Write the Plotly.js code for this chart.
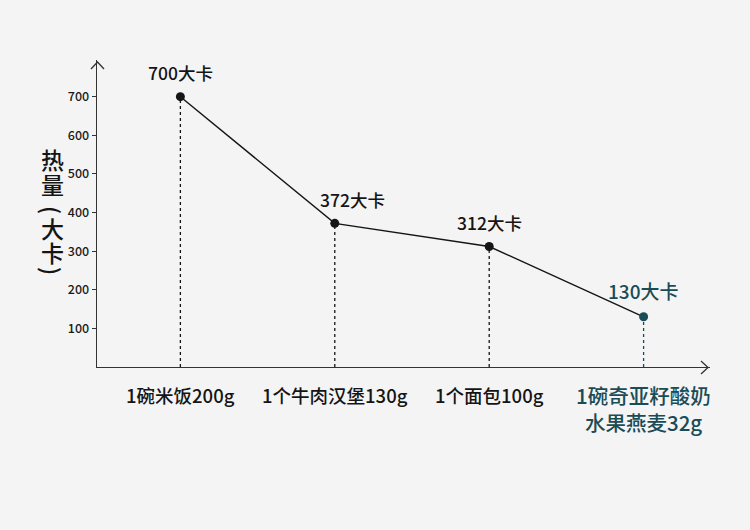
<!DOCTYPE html>
<html>
<head>
<meta charset="utf-8">
<script src="https://cdn.plot.ly/plotly-3.0.1.min.js"></script>
<style>
  html, body { margin: 0; padding: 0; background: #f4f4f4; }
  #graph { width: 750px; height: 530px; }
</style>
</head>
<body>
<div id="graph"></div>
<script>
// data
var foods = [
    ['1碗米饭200g'],
    ['1个牛肉汉堡130g'],
    ['1个面包100g'],
    ['1碗奇亚籽酸奶', '水果燕麦32g']
];
var kcal = [700, 372, 312, 130];
var kcalUnit = '大卡';
var yTicks = [100, 200, 300, 400, 500, 600, 700];
var yTitleChars = ['热', '量', '(', '大', '卡', ')'];

var dark = '#151515';
var teal = '#1a4c57';
var font = '"Noto Sans CJK SC", "Noto Sans", sans-serif';

var W = 750, H = 530;
var mar = {l: 97, r: 40, t: 60, b: 163};
var pw = W - mar.l - mar.r, ph = H - mar.t - mar.b;

var last = kcal.length - 1;
var idx = kcal.map(function (v, i) { return i; });
var colors = idx.map(function (i) { return i === last ? teal : dark; });

var line = {
    x: idx,
    y: kcal,
    type: 'scatter',
    mode: 'lines+markers',
    line: {color: dark, width: 1.4},
    marker: {color: colors, size: 9},
    hoverinfo: 'skip',
    cliponaxis: false
};

var shapes = [];
var annotations = [];

// dotted drop lines
idx.forEach(function (i) {
    shapes.push({
        type: 'line', xref: 'x', yref: 'y',
        x0: i, x1: i, y0: 0, y1: kcal[i],
        line: {color: colors[i], width: 1.3, dash: 'dot'},
        layer: 'below'
    });
});

// value labels
idx.forEach(function (i) {
    annotations.push({
        x: i, y: kcal[i], xref: 'x', yref: 'y',
        text: kcal[i] + kcalUnit,
        showarrow: false,
        yanchor: 'middle',
        yshift: i === last ? 26 : 24,
        xshift: i === 1 ? 18 : 0,
        font: {family: font, size: i === last ? 19 : 17.5, color: colors[i], weight: 500}
    });
});

// category labels
idx.forEach(function (i) {
    foods[i].forEach(function (t, k) {
        annotations.push({
            x: i, y: 0, xref: 'x', yref: 'paper',
            text: t, showarrow: false,
            yanchor: 'middle',
            yshift: -28 - k * 27,
            font: {family: font, size: i === last ? 20.5 : 18.5, color: colors[i], weight: 500}
        });
    });
});

// vertical y title, brackets turned on their side
var titleY = [159, 184, 210, 228, 252, 271];
yTitleChars.forEach(function (c, k) {
    var paren = (c === '(' || c === ')');
    annotations.push({
        xref: 'paper', yref: 'paper',
        x: (52 - mar.l) / pw,
        y: 1 - (titleY[k] - mar.t) / ph,
        text: c, showarrow: false,
        textangle: paren ? 90 : 0,
        xanchor: 'center', yanchor: 'middle',
        font: {family: font, size: 23, color: dark, weight: 500}
    });
});

// arrow heads on the axes
function px(x) { return (x - mar.l) / pw; }
function py(y) { return 1 - (y - mar.t) / ph; }
shapes.push({
    type: 'path', xref: 'paper', yref: 'paper',
    path: 'M' + px(701) + ',' + py(361) + ' L' + px(708) + ',' + py(367.5) + ' L' + px(701) + ',' + py(374),
    line: {color: '#333', width: 1.3}
});
shapes.push({
    type: 'path', xref: 'paper', yref: 'paper',
    path: 'M' + px(91) + ',' + py(69) + ' L' + px(97.5) + ',' + py(62) + ' L' + px(104) + ',' + py(69),
    line: {color: '#333', width: 1.3}
});

var layout = {
    width: W,
    height: H,
    margin: mar,
    paper_bgcolor: '#f4f4f4',
    plot_bgcolor: '#f4f4f4',
    showlegend: false,
    font: {family: font, color: dark},
    xaxis: {
        range: [-0.54, 3.43],
        showgrid: false,
        zeroline: false,
        showline: true,
        linecolor: '#333',
        linewidth: 1.3,
        showticklabels: false,
        ticks: '',
        fixedrange: true
    },
    yaxis: {
        range: [0, 795],
        showgrid: false,
        zeroline: false,
        showline: true,
        linecolor: '#333',
        linewidth: 1.3,
        tickvals: yTicks,
        ticks: 'outside',
        ticklen: 4,
        tickcolor: '#333',
        tickfont: {family: font, size: 12.5, color: '#1a1a1a', weight: 500},
        fixedrange: true
    },
    shapes: shapes,
    annotations: annotations
};

Plotly.newPlot('graph', [line], layout, {displayModeBar: false, staticPlot: true});
</script>
</body>
</html>
